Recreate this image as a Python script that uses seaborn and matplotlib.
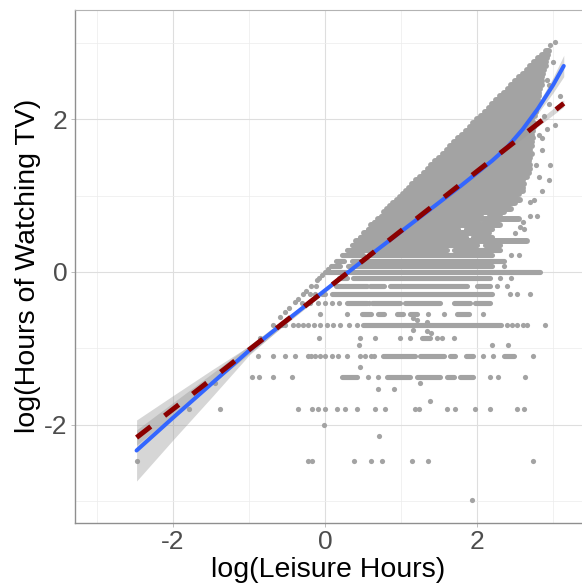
import matplotlib
matplotlib.use("Agg")
import matplotlib.pyplot as plt
import seaborn as sns

# ---------------- data ----------------
# isolated points (log leisure hours, log TV hours)
dot_x = [-0.68, -0.57, -0.53, -0.42, -0.35, -0.29, -0.22, -0.15, -0.07, 0.02, 0.11, 0.20, 0.31, 0.42,
         2.39, 2.46, 2.52, 2.61, 2.65, 2.89,
         1.16, 1.21, 1.34, 1.16, 1.34, 1.40,
         -0.59, -0.53, -0.07, 0.29, 1.36, 1.56, 2.08,
         -0.40, -0.31, -0.20, -0.09, 0.00, 0.09, 0.18, 0.58,
         -0.29, -0.20, -0.13, 2.43, 2.53, 2.70,
         -0.18, -0.12, 2.26, 2.39,
         -0.085, 2.30, 2.45,
         -0.86, -0.075, 0.46, 0.66, 0.99, 1.12, 1.47, 1.535, 1.69,
         0.45, 2.19, 2.40,
         -0.88, -0.69, -0.53, -0.395, -0.22, -0.18, -0.13, -0.066, 0.00, 0.088, 0.175, 0.294,
         0.46, 0.53, 0.60, 0.64, 2.08, 2.21, 2.74,
         0.46,
         -0.96, -0.87, -0.69, -0.44, 0.57, 0.70, 2.17, 2.28, 2.63,
         -1.45, 1.25,
         0.70, 0.91,
         1.38,
         -1.79, -1.38, -0.35, -0.175, -0.088, 0.00, 0.154, 0.263, 0.417, 0.658, 0.79, 1.184, 1.24,
         1.60, 1.71, 1.97, 2.17, 2.53, 2.62,
         -0.02,
         0.715,
         -2.48, -0.22, -0.175, 0.382, 0.605, 0.754, 1.14, 1.35, 2.73,
         1.93,
         -0.47, -0.36, -0.25, -0.10, -0.04, 0.04,
         2.92, 3.09, 3.03, 2.92, 2.96, 2.81, 2.70, 2.79, 2.57, 2.96, 3.03, 2.85, 2.88,
         2.35, 2.45, 2.55, 2.50, 2.62, 2.60, 2.70, 2.75, 2.85, 2.95, 2.78, 2.85, 2.82, 2.95, 2.95, 3.00]
dot_y = [-0.69] * 20 + \
        [-0.60, -0.63, -0.66, -0.76, -0.78, -0.80] + \
        [-0.59, -0.53, -0.55, -0.55, -0.55, -0.55, -0.55] + \
        [-0.40, -0.41, -0.41, -0.41, -0.41, -0.41, -0.41, -0.41] + \
        [-0.29, -0.29, -0.29, -0.29, -0.29, -0.29] + \
        [-0.18, -0.18, -0.18, -0.18] + \
        [-0.085, -0.085, -0.085] + \
        [-0.87] * 9 + \
        [-0.96] * 3 + \
        [-1.10] * 19 + \
        [-1.25] + \
        [-1.38] * 9 + \
        [-1.45, -1.45] + \
        [-1.53, -1.53] + \
        [-1.69] + \
        [-1.79] * 19 + \
        [-2.01] + \
        [-2.15] + \
        [-2.48] * 9 + \
        [-2.99] + \
        [-0.47, -0.35, -0.25, -0.10, -0.04, 0.04] + \
        [2.52, 2.30, 1.93, 1.88, 1.40, 1.25, 0.92, 0.73, 0.59, 2.98, 3.02, 1.75, 2.05] + \
        [0.08, 0.22, 0.22, 0.51, 0.56, 0.65, 0.74, 0.94, 1.06, 1.20, 1.40, 1.60, 1.80, 2.20, 2.45, 2.75]

# horizontal runs of merged points (row level, first and last x)
run_y = [-0.69, -0.55, -0.55, -0.55, -0.55, -0.55,
         -0.41, -0.41, -0.41, -0.41, -0.41,
         -0.29, -0.29, -0.18, -0.18, -0.18, -0.18,
         -0.085, -0.085, 0.00,
         -0.87, -1.10, -1.10, -1.10, -1.10, -1.10,
         -1.38, -1.38, -1.38, -1.38, -1.38,
         0.08, 0.08, 0.15, 0.15, 0.22, 0.22, 0.29, 0.29, 0.35, 0.35,
         0.46, 0.46, 0.56, 0.56, 0.65, 0.65, 0.74, 0.74]
run_x0 = [0.50, 0.48, 0.70, 0.94, 1.12, 1.73,
          0.29, 0.62, 1.05, 1.69, 1.97,
          -0.04, 0.09, 0.15, 0.59, 0.86, 2.00,
          0.18, 0.37, 0.00,
          1.27, 0.76, 1.25, 1.645, 1.86, 2.35,
          0.22, 0.81, 1.21, 1.60, 1.78,
          0.08, 0.30, 0.15, 0.35, 0.22, 0.58, 0.29, 1.70, 0.35, 2.10,
          0.46, 1.95, 0.56, 1.85, 0.65, 2.10, 0.74, 2.15]
run_x1 = [2.32, 0.61, 0.77, 1.03, 1.21, 1.89,
          0.55, 0.99, 1.51, 1.91, 2.17,
          0.00, 2.20, 0.55, 0.77, 1.87, 2.17,
          0.29, 2.17, 2.83,
          1.38, 1.18, 1.56, 1.71, 1.95, 2.48,
          0.42, 1.12, 1.51, 1.69, 1.95,
          0.20, 2.20, 0.25, 2.35, 0.50, 2.20, 1.60, 2.30, 2.00, 2.30,
          1.85, 2.20, 1.75, 2.20, 2.00, 2.25, 2.05, 2.30]

# dense rows: each starts on the diagonal (TV = leisure) and runs right to dense_xmax
dense_y = [0.41, 0.51, 0.61, 0.69, 0.78, 0.82, 0.86, 0.90, 0.94, 0.98, 1.02, 1.06, 1.10,
           1.15, 1.20, 1.25, 1.30, 1.35, 1.40, 1.45, 1.50, 1.55, 1.60, 1.65, 1.70, 1.75,
           1.80, 1.85, 1.90, 1.95, 2.00, 2.05, 2.10, 2.15, 2.20, 2.25, 2.30, 2.35, 2.40,
           2.45, 2.50, 2.55, 2.60, 2.65, 2.70, 2.75, 2.80, 2.85, 2.90]
dense_xmax = [2.65, 2.15, 2.30, 2.55, 2.35, 2.45, 2.40, 2.50, 2.57, 2.50, 2.55, 2.60, 2.60,
              2.62, 2.60, 2.65, 2.68, 2.70, 2.70, 2.68, 2.70, 2.72, 2.70, 2.72, 2.72, 2.73,
              2.72, 2.74, 2.75, 2.75, 2.72, 2.76, 2.78, 2.78, 2.80, 2.80, 2.82, 2.82, 2.83,
              2.85, 2.85, 2.86, 2.87, 2.88, 2.90, 2.90, 2.92, 2.93, 2.94]

# loess smooth (blue) and its confidence half-width
smooth_x = [-2.48, -2.0, -1.5, -1.0, -0.5, 0.0, 0.5, 1.0, 1.5, 1.8, 2.0, 2.2, 2.4, 2.6, 2.8, 3.0, 3.14]
smooth_y = [-2.34, -1.91, -1.47, -1.03, -0.63, -0.24, 0.15, 0.53, 0.91, 1.14, 1.30, 1.46, 1.64, 1.87, 2.14, 2.45, 2.70]
smooth_se = [0.40, 0.29, 0.18, 0.06, 0.03, 0.02, 0.02, 0.02, 0.02, 0.02, 0.02, 0.02, 0.03, 0.04, 0.06, 0.10, 0.14]

# linear fit (dark red dashed) and its confidence half-width
lm_x = [-2.48, -1.5, -0.5, 0.5, 1.5, 2.5, 3.14]
lm_y = [-2.17, -1.41, -0.63, 0.15, 0.93, 1.71, 2.21]
lm_se = [0.10, 0.07, 0.04, 0.015, 0.012, 0.03, 0.045]

x_ticks = [-2, 0, 2]
y_ticks = [-2, 0, 2]
x_label = "log(Leisure Hours)"
y_label = "log(Hours of Watching TV)"

# ---------------- drawing ----------------
sns.set_theme(style="white")
plt.rcParams['font.family'] = ['Liberation Sans', 'DejaVu Sans']
plt.rcParams['axes.unicode_minus'] = False

PT = '#A3A3A3'
fig = plt.figure(figsize=(5.82, 5.86), dpi=100)
ax = fig.add_axes([75 / 582, 63 / 586, 507 / 582, 513.5 / 586])

ax.set_xlim(-3.29, 3.38)
ax.set_ylim(-3.29, 3.44)
ax.set_xticks(x_ticks)
ax.set_yticks(y_ticks)
ax.set_xticks([-3, -1, 1, 3], minor=True)
ax.set_yticks([-3, -1, 1, 3], minor=True)
ax.grid(which='major', color='#DEDEDE', linewidth=0.8)
ax.grid(which='minor', color='#EDEDED', linewidth=0.55)
ax.set_axisbelow(True)

# points
ax.hlines(dense_y, dense_y, dense_xmax, colors=PT, linewidth=4.3, capstyle='round', zorder=2)
ax.hlines(run_y, run_x0, run_x1, colors=PT, linewidth=3.7, capstyle='round', zorder=2)
sns.scatterplot(x=dot_x, y=dot_y, color=PT, s=14, linewidth=0, ax=ax, zorder=2)

# confidence bands
ax.fill_between(smooth_x, [a - b for a, b in zip(smooth_y, smooth_se)],
                [a + b for a, b in zip(smooth_y, smooth_se)],
                color='#999999', alpha=0.4, linewidth=0, zorder=3)
ax.fill_between(lm_x, [a - b for a, b in zip(lm_y, lm_se)],
                [a + b for a, b in zip(lm_y, lm_se)],
                color='#999999', alpha=0.4, linewidth=0, zorder=3.5)

# loess smooth line
sns.lineplot(x=smooth_x, y=smooth_y, color='#3366FF', linewidth=2.9, ax=ax,
             errorbar=None, zorder=4)

# linear fit line
ax.plot(lm_x, lm_y, color='#8B0000', linewidth=3.6, linestyle=(0, (3.6, 3.5)),
        solid_capstyle='butt', dash_capstyle='butt', zorder=6)

# axes styling
for side in ['left', 'bottom']:
    ax.spines[side].set_color('#8F8F8F')
    ax.spines[side].set_linewidth(1.0)
ax.spines['top'].set_color('#B3B3B3')
ax.spines['top'].set_linewidth(0.8)
ax.spines['right'].set_visible(False)

ax.tick_params(which='major', length=2.75, width=0.6, color='#B3B3B3',
               labelsize=19, labelcolor='#4D4D4D', pad=2.5, left=True, bottom=True)
ax.tick_params(which='minor', length=0)

ax.set_xlabel(x_label, fontsize=20.5, color='black', labelpad=2)
ax.set_ylabel(y_label, fontsize=20.5, color='black', labelpad=2)

fig.savefig("out.png", dpi=100, facecolor='white')
